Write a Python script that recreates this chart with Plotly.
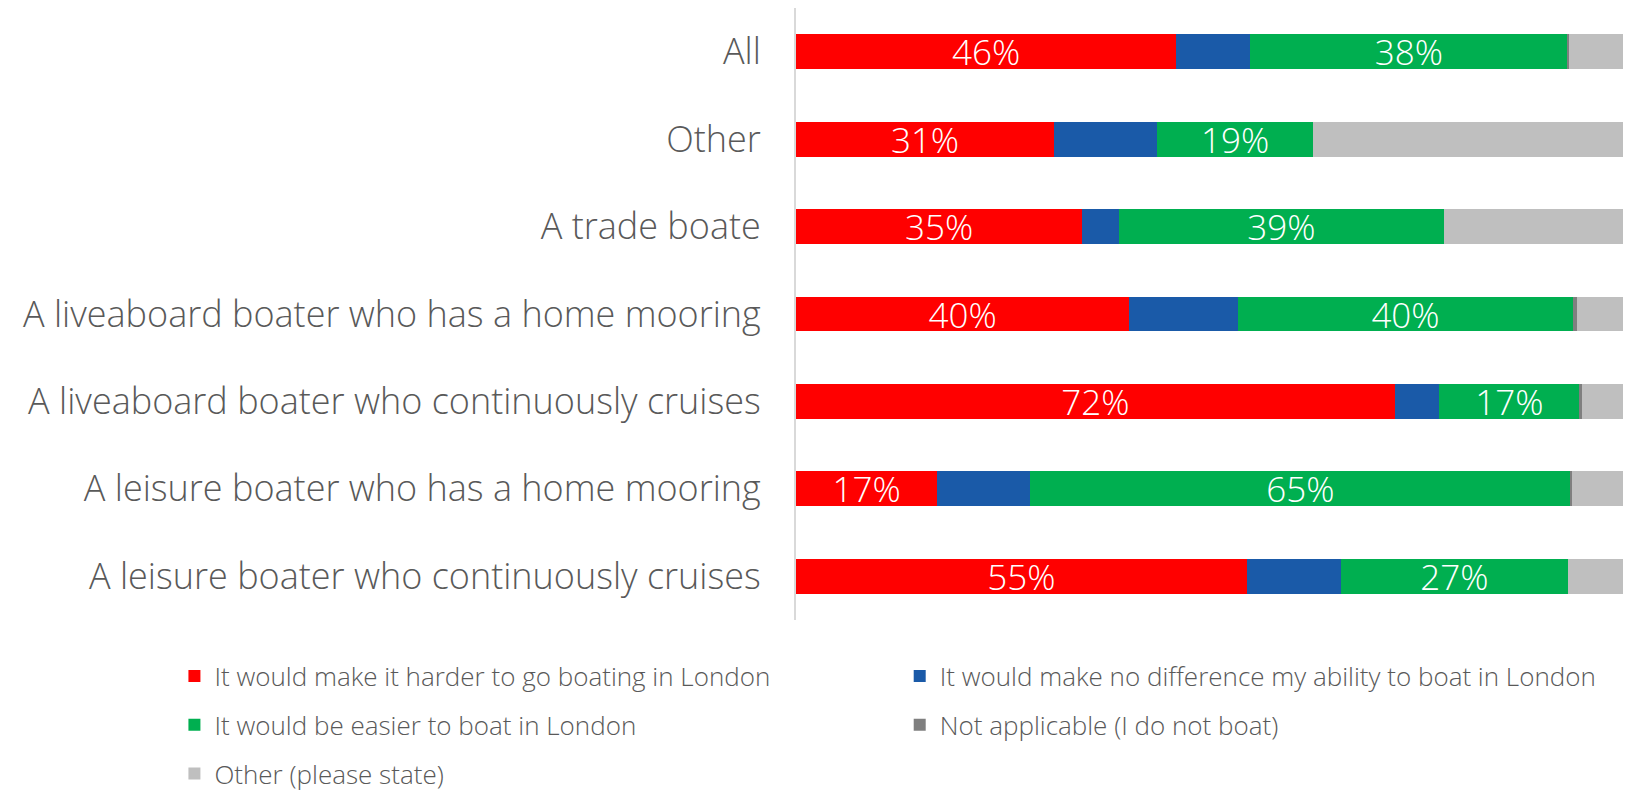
import plotly.graph_objects as go

categories = [
    "All",
    "Other",
    "A trade boate",
    "A liveaboard boater who has a home mooring",
    "A liveaboard boater who continuously cruises",
    "A leisure boater who has a home mooring",
    "A leisure boater who continuously cruises",
]

harder = [46.0, 31.2, 34.6, 40.3, 72.4, 17.1, 54.5]
no_difference = [8.9, 12.5, 4.5, 13.2, 5.4, 11.2, 11.4]
easier = [38.4, 18.8, 39.2, 40.4, 16.9, 65.4, 27.4]
not_applicable = [0.2, 0.0, 0.0, 0.5, 0.3, 0.1, 0.0]
other_state = [6.5, 37.5, 21.7, 5.6, 5.0, 6.2, 6.7]

series = [
    ("It would make it harder to go boating in London", harder, "#FF0000", True, "legend"),
    ("It would make no difference my ability to boat in London", no_difference, "#1A5AA8", False, "legend2"),
    ("It would be easier to boat in London", easier, "#00AF50", True, "legend"),
    ("Not applicable (I do not boat)", not_applicable, "#7F7F7F", False, "legend2"),
    ("Other (please state)", other_state, "#BFBFBF", False, "legend"),
]

FONT = "Open Sans"
fig = go.Figure()
for i, (name, vals, color, show_text, leg) in enumerate(series):
    fig.add_trace(go.Bar(
        y=categories,
        x=vals,
        name=name,
        orientation="h",
        marker=dict(color=color, line=dict(width=0)),
        texttemplate="%{x:.0f}%" if show_text else None,
        textposition="inside" if show_text else "none",
        insidetextanchor="middle",
        constraintext="none",
        textangle=0,
        textfont=dict(color="white", size=35, family=FONT, weight=300),
        legend=leg,
        legendgroup=f"g{i}",
        hoverinfo="skip",
    ))

legend_common = dict(
    xanchor="left", yanchor="top",
    orientation="v", traceorder="grouped", tracegroupgap=12,
    font=dict(size=26, color="#595959", family=FONT, weight=300),
    itemwidth=30, bgcolor="rgba(0,0,0,0)",
)

fig.update_layout(
    barmode="stack",
    bargap=0.6,
    width=1637,
    height=784,
    margin=dict(l=788, r=22, t=0, b=172, autoexpand=False),
    plot_bgcolor="white",
    paper_bgcolor="white",
    font=dict(family=FONT, color="#595959"),
    showlegend=True,
    legend=dict(x=-0.7516, y=-0.0533, **legend_common),
    legend2=dict(x=0.1254, y=-0.0533, **legend_common),
)

fig.update_xaxes(
    range=[0, 100], visible=False, showgrid=False, zeroline=False,
)
fig.update_yaxes(
    categoryorder="array", categoryarray=categories, autorange="reversed",
    showline=True, linecolor="#D9D9D9", linewidth=2,
    showgrid=False, ticks="", ticklabelstandoff=26,
    tickfont=dict(size=36, color="#595959", family=FONT, weight=300),
)

fig.write_html("out.html")
